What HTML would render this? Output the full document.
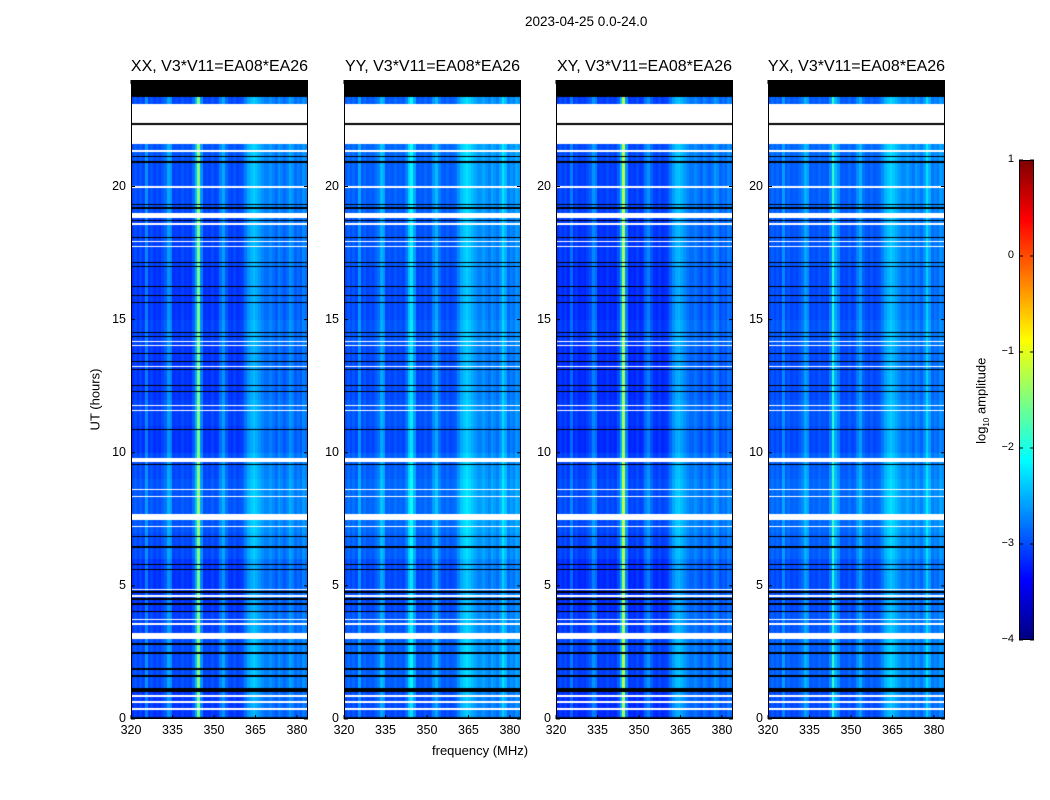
<!DOCTYPE html>
<html><head><meta charset="utf-8"><style>
body{margin:0;background:#fff;font-family:"Liberation Sans","DejaVu Sans",sans-serif;}
#root{position:relative;width:1050px;height:800px;overflow:hidden;background:#fff;}
.t{position:absolute;color:#000;white-space:nowrap;}
canvas{position:absolute;}
</style></head><body>
<div id="root">
<div class="t" style="left:525px;top:14px;font-size:13.5px;">2023-04-25 0.0-24.0</div>
<div class="t" style="left:432px;top:743px;font-size:13px;">frequency (MHz)</div>
<div class="t" style="left:64px;top:392px;font-size:13px;transform:rotate(-90deg);">UT (hours)</div>
<div class="t" style="left:939px;top:392px;font-size:13px;transform:rotate(-90deg);">log<sub style="font-size:8px">10</sub> amplitude</div>
<svg id="svg" width="1050" height="800" style="position:absolute;left:0;top:0"></svg>
</div>
<script>
const panelTitles=["XX, V3*V11=EA08*EA26","YY, V3*V11=EA08*EA26","XY, V3*V11=EA08*EA26","YX, V3*V11=EA08*EA26"];
const freqTicks=[320,335,350,365,380];
const timeTicks=[0,5,10,15,20];
const cbTicks=[1,0,-1,-2,-3,-4];
const specXX=[-2.9,-2.8,-2.9,-2.8,-2.9,-2.5,-2.9,-2.8,-2.9,-2.85,-2.9,-2.8,-2.7,-2.4,-2.5,-2.9,-2.85,-2.9,-2.8,-2.9,-2.85,-2.9,-2.7,-2.3,-1.3,-2.5,-2.9,-2.85,-2.9,-2.8,-2.9,-2.85,-2.6,-2.4,-2.7,-2.85,-2.9,-2.8,-2.9,-2.85,-2.8,-2.6,-2.4,-2.3,-2.2,-2.3,-2.4,-2.5,-2.6,-2.6,-2.5,-2.6,-2.7,-2.5,-2.6,-2.7,-2.6,-2.4,-2.5,-2.7,-2.6,-2.7,-2.5,-2.6];
const specYY=[-2.6,-2.5,-2.6,-2.5,-2.6,-2.2,-2.6,-2.5,-2.6,-2.55,-2.6,-2.5,-2.4,-2.1,-2.2,-2.6,-2.55,-2.6,-2.5,-2.6,-2.55,-2.6,-2.4,-2.0,-1.8,-2.2,-2.6,-2.55,-2.6,-2.5,-2.6,-2.55,-2.3,-2.1,-2.4,-2.55,-2.6,-2.5,-2.6,-2.55,-2.5,-2.3,-2.1,-2.0,-1.9,-2.0,-2.1,-2.2,-2.3,-2.3,-2.2,-2.3,-2.4,-2.2,-2.3,-2.4,-2.2,-1.9,-2.1,-2.4,-2.3,-2.4,-2.2,-2.3];
const specXY=[-2.95,-2.85,-2.95,-2.85,-2.95,-2.6,-2.95,-2.85,-2.95,-2.9,-2.95,-2.85,-2.75,-2.5,-2.6,-2.95,-2.9,-2.95,-2.85,-2.95,-2.9,-2.95,-2.75,-2.3,-1.1,-2.5,-2.95,-2.9,-2.95,-2.85,-2.95,-2.9,-2.65,-2.5,-2.75,-2.9,-2.95,-2.85,-2.95,-2.9,-2.85,-2.65,-2.45,-2.3,-2.25,-2.35,-2.45,-2.55,-2.65,-2.65,-2.55,-2.65,-2.75,-2.55,-2.65,-2.75,-2.65,-2.45,-2.55,-2.75,-2.65,-2.75,-2.55,-2.65];
const specYX=[-2.6,-2.5,-2.6,-2.5,-2.6,-2.25,-2.6,-2.5,-2.6,-2.55,-2.6,-2.5,-2.4,-2.15,-2.25,-2.6,-2.55,-2.6,-2.5,-2.6,-2.55,-2.6,-2.3,-1.5,-2.1,-2.3,-2.6,-2.55,-2.6,-2.5,-2.6,-2.55,-2.35,-2.15,-2.45,-2.55,-2.6,-2.5,-2.6,-2.55,-2.5,-2.35,-2.15,-2.05,-1.95,-2.05,-2.15,-2.25,-2.35,-2.35,-2.25,-2.35,-2.45,-2.25,-2.35,-2.45,-2.25,-1.9,-2.15,-2.45,-2.35,-2.45,-2.25,-2.35];
const panelOffset=[-0.15,-0.35,-0.15,-0.35];
const hourOffset=[-0.1,0,0,-0.05,-0.1,-0.1,0,0.05,0.05,0,-0.1,-0.05,-0.1,-0.1,-0.05,-0.1,-0.1,-0.05,-0.05,0,0,0.05,0,0];
const flagStart=[23.38,22.4,22.32,21.58,21.31,21.09,20.90,19.96,19.29,19.17,18.80,18.69,18.57,18.05,17.90,17.71,17.11,16.96,16.21,15.87,15.61,14.48,14.33,14.15,14.00,13.70,13.40,13.21,13.10,12.50,12.27,11.74,11.56,10.84,9.64,9.53,8.59,8.33,7.47,7.20,6.83,6.42,5.78,5.59,4.84,4.73,4.58,4.47,4.28,4.01,3.71,3.53,3.00,2.78,2.44,1.84,1.58,1.01,0.83,0.60,0.34,0.02];
const flagEnd=[24.0,23.1,22.40,22.32,21.37,21.15,20.96,20.02,19.35,19.23,19.02,18.75,18.63,18.11,17.96,17.77,17.17,17.02,16.27,15.93,15.67,14.54,14.39,14.21,14.06,13.76,13.46,13.27,13.16,12.56,12.33,11.80,11.62,10.90,9.79,9.59,8.65,8.39,7.69,7.26,6.89,6.48,5.84,5.65,4.90,4.79,4.64,4.53,4.34,4.07,3.77,3.59,3.23,2.84,2.50,1.90,1.64,1.16,0.89,0.66,0.40,0.08];
const flagColor=["k","w","k","w","w","k","k","w","k","k","w","k","w","k","w","w","k","k","k","k","k","k","k","w","w","k","k","w","k","k","k","w","w","k","w","k","w","w","w","w","k","k","k","k","w","k","w","k","k","k","w","w","w","k","k","k","k","k","w","w","w","k"];
const spectra=[specXX,specYY,specXY,specYX];
const panelLeft=[131,344,556,768];
const PW=177,PTOP=80,PBOT=719,FMIN=320,FMAX=384,TMAX=24;
const root=document.getElementById('root');
const svg=document.getElementById('svg');
const NS='http://www.w3.org/2000/svg';
function jet(v){
  function c(x){return Math.max(0,Math.min(1,x));}
  const r=c(1.5-Math.abs(4*v-3)),g=c(1.5-Math.abs(4*v-2)),b=c(1.5-Math.abs(4*v-1));
  return [Math.round(r*255),Math.round(g*255),Math.round(b*255)];
}
function norm(val){return (Math.max(-4,Math.min(1,val))+4)/5;}
function yOf(h){return PBOT-(h/TMAX)*(PBOT-PTOP);}
function hOf(y){return (PBOT-y)/(PBOT-PTOP)*TMAX;}
function mk(tag,attrs){const e=document.createElementNS(NS,tag);for(const k in attrs)e.setAttribute(k,attrs[k]);svg.appendChild(e);return e;}
function label(txt,x,y,size,anchor){const t=document.createElement('div');t.className='t';t.textContent=txt;t.style.fontSize=size+'px';t.style.top=y+'px';t.style.left=x+'px';if(anchor==='c')t.style.transform='translateX(-50%)';if(anchor==='r')t.style.transform='translateX(-100%)';root.appendChild(t);return t;}
spectra.forEach((spec,p)=>{
  const x0=panelLeft[p];
  const cv=document.createElement('canvas');
  cv.width=PW;cv.height=PBOT-PTOP;cv.style.left=x0+'px';cv.style.top=PTOP+'px';
  
  
  root.insertBefore(cv,svg);
  const ctx=cv.getContext('2d');const img=ctx.createImageData(PW,PBOT-PTOP);
  const nb=spec.length;
  for(let yy=0;yy<PBOT-PTOP;yy++){
    const h=hOf(PTOP+yy+0.5);
    let flag=null;
    for(let i=0;i<flagStart.length;i++){if(h>=flagStart[i]&&h<flagEnd[i]){flag=flagColor[i];break;}}
    const hi=Math.min(23,Math.floor(h));
    for(let xx=0;xx<PW;xx++){
      const f=FMIN+(xx+0.5)/PW*(FMAX-FMIN);
      const bi=Math.min(nb-1,Math.floor((f-FMIN)/(FMAX-FMIN)*nb));
      let rgb;
      if(flag==='w')rgb=[255,255,255];else if(flag==='k')rgb=[0,0,0];
      else rgb=jet(norm(spec[bi]+hourOffset[hi]+panelOffset[p]));
      const o=(yy*PW+xx)*4;img.data[o]=rgb[0];img.data[o+1]=rgb[1];img.data[o+2]=rgb[2];img.data[o+3]=255;
    }
  }
  ctx.putImageData(img,0,0);
  const fr=mk('rect',{x:x0+0.5,y:PTOP+0.5,width:PW-1,height:PBOT-PTOP-1,fill:'none',stroke:'#000','stroke-width':1});
  
  
  const tl=label(panelTitles[p],x0+PW/2,58,16,'c');
  
  
  freqTicks.forEach(fv=>{
    const x=x0+(fv-FMIN)/(FMAX-FMIN)*PW;
    mk('line',{x1:x,x2:x,y1:PBOT,y2:PBOT-4,stroke:'#000'});
    mk('line',{x1:x,x2:x,y1:PTOP,y2:PTOP+4,stroke:'#000'});
    const l=label(String(fv),x,723,12.5,'c');
    
    
  });
  timeTicks.forEach(tv=>{
    const y=yOf(tv);
    mk('line',{x1:x0,x2:x0+4,y1:y,y2:y,stroke:'#000'});
    mk('line',{x1:x0+PW,x2:x0+PW-4,y1:y,y2:y,stroke:'#000'});
    const l=label(String(tv),x0-5,y-8,12.5,'r');
    
    
  });
});
const CBX=1019,CBW=15,CBT=160,CBB=640;
const cb=document.createElement('canvas');cb.width=CBW;cb.height=CBB-CBT;cb.style.left=CBX+'px';cb.style.top=CBT+'px';


root.insertBefore(cb,svg);
const cctx=cb.getContext('2d');
for(let y=0;y<CBB-CBT;y++){const rgb=jet(1-(y+0.5)/(CBB-CBT));cctx.fillStyle='rgb('+rgb.join(',')+')';cctx.fillRect(0,y,CBW,1);}
const cbf=mk('rect',{x:CBX+0.5,y:CBT+0.5,width:CBW-1,height:CBB-CBT-1,fill:'none',stroke:'#000'});


cbTicks.forEach(v=>{
  const y=CBB-(v+4)/5*(CBB-CBT);
  mk('line',{x1:CBX,x2:CBX+4,y1:y,y2:y,stroke:'#000'});
  mk('line',{x1:CBX+CBW,x2:CBX+CBW-4,y1:y,y2:y,stroke:'#000'});
  const l=label(v<0?'\u2212'+(-v):String(v),CBX-5,y-7,11,'r');
  
  
});
</script>
</body></html>
